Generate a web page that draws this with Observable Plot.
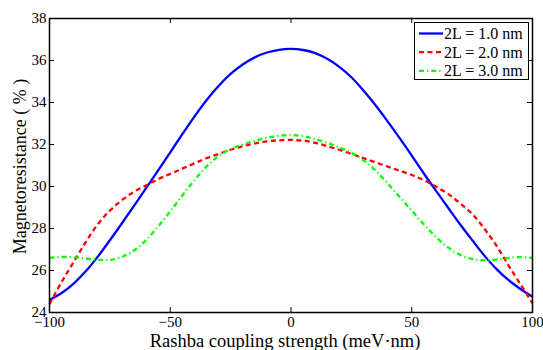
<!DOCTYPE html>
<html>
<head>
<meta charset="utf-8">
<script src="https://cdn.jsdelivr.net/npm/d3@7"></script>
<script src="https://cdn.jsdelivr.net/npm/@observablehq/plot@0.6"></script>
<style>
  body { margin: 0; background: #fff; }
  #wrap { position: relative; width: 543px; height: 350px; font-family: "Liberation Serif", "Times New Roman", serif; }
  #legend { position: absolute; left: 414px; top: 22px; }
</style>
</head>
<body>
<div id="wrap"><div id="chart"></div><div id="legend"></div></div>
<script>
// ---- data ----
const rashba = [-100,-95,-90,-85,-80,-75,-70,-65,-60,-55,-50,-45,-40,-35,-30,-25,-20,-15,-10,-5,0,
                5,10,15,20,25,30,35,40,45,50,55,60,65,70,75,80,85,90,95,100];
const mr1 = [24.6,24.93,25.38,25.96,26.66,27.44,28.25,29.08,29.92,30.77,31.63,32.49,33.33,34.11,34.79,35.36,35.81,36.15,36.38,36.51,36.55,
             36.5,36.35,36.08,35.7,35.2,34.57,33.87,33.1,32.3,31.47,30.62,29.8,29.0,28.2,27.45,26.72,26.08,25.55,25.12,24.75];
const mr2 = [24.4,25.45,26.4,27.35,28.2,28.85,29.35,29.75,30.05,30.35,30.6,30.85,31.1,31.35,31.55,31.75,31.92,32.05,32.15,32.2,32.22,
             32.18,32.08,31.92,31.75,31.55,31.35,31.15,30.95,30.75,30.55,30.3,30.0,29.65,29.2,28.7,28.0,27.2,26.25,25.35,24.45];
const mr3 = [26.6,26.65,26.63,26.57,26.51,26.5,26.65,26.95,27.45,28.1,28.82,29.57,30.3,30.95,31.45,31.78,32.0,32.17,32.32,32.42,32.45,
             32.4,32.25,32.08,31.86,31.6,31.25,30.76,30.15,29.5,28.85,28.2,27.6,27.1,26.75,26.55,26.48,26.52,26.6,26.64,26.6];
const seriesNames = ["2L = 1.0 nm", "2L = 2.0 nm", "2L = 3.0 nm"];
const seriesValues = [mr1, mr2, mr3];
const seriesColors = ["#0000ff", "#ff0000", "#00ff00"];
const seriesDash = [null, "5,3.5", "5,3,1.2,3"];
const xTicks = [-100, -50, 0, 50, 100];
const yTicks = [24, 26, 28, 30, 32, 34, 36, 38];
const xLabel = "Rashba coupling strength (meV\u00b7nm)";
const yLabel = "Magnetoresistance ( % )";

const W = 543, H = 350, mL = 49, mR = 11, mT = 18, mB = 38;
const innerW = W - mL - mR, innerH = H - mT - mB, tickLen = 5;

const lineMarks = seriesValues.map((vals, i) =>
  Plot.line(rashba.map((x, j) => ({x, y: vals[j]})), {
    x: "x", y: "y", stroke: seriesColors[i], strokeWidth: 2.3,
    strokeDasharray: seriesDash[i], curve: "catmull-rom", strokeLinecap: "butt"
  })
);

const plot = Plot.plot({
  width: W, height: H,
  marginLeft: mL, marginRight: mR, marginTop: mT, marginBottom: mB,
  style: {fontFamily: "Liberation Serif, Times New Roman, serif", fontSize: "15px", background: "#fff", color: "#000"},
  x: {domain: [-100, 100]},
  y: {domain: [24, 38]},
  marks: [
    Plot.axisX(xTicks, {tickSize: 0, tickPadding: 4, label: null, fontSize: 15}),
    Plot.axisY(yTicks, {tickSize: 0, tickPadding: 3, label: null, fontSize: 15}),
    ...lineMarks,
    Plot.tickX(xTicks, {x: d => d, insetTop: innerH - tickLen, stroke: "#000", strokeWidth: 1}),
    Plot.tickX(xTicks, {x: d => d, insetBottom: innerH - tickLen, stroke: "#000", strokeWidth: 1}),
    Plot.tickY(yTicks, {y: d => d, insetRight: innerW - tickLen, stroke: "#000", strokeWidth: 1}),
    Plot.tickY(yTicks, {y: d => d, insetLeft: innerW - tickLen, stroke: "#000", strokeWidth: 1}),
    Plot.frame({stroke: "#000", strokeWidth: 1.5}),
    Plot.text([xLabel], {frameAnchor: "bottom", dx: -6, dy: 34, lineAnchor: "bottom", textAnchor: "middle", fontSize: 18.5, fill: "#000"}),
    Plot.text([yLabel], {frameAnchor: "left", dx: -24, dy: 1, rotate: -90, lineAnchor: "bottom", textAnchor: "middle", fontSize: 18, fill: "#000"})
  ]
});
document.getElementById("chart").append(plot);

// legend inside the axes (top right)
const lw = 115, lh = 58;
const leg = d3.select("#legend").append("svg").attr("width", lw).attr("height", lh)
  .style("font-family", "Liberation Serif, Times New Roman, serif").style("font-size", "16px");
leg.append("rect").attr("x", 0.5).attr("y", 0.5).attr("width", lw - 1).attr("height", lh - 1)
  .attr("fill", "#fff").attr("stroke", "#000").attr("stroke-width", 1);
seriesNames.forEach((name, i) => {
  const cy = 11.5 + i * 18.7;
  leg.append("line").attr("x1", 5).attr("x2", 29).attr("y1", cy).attr("y2", cy)
    .attr("stroke", seriesColors[i]).attr("stroke-width", 2.3)
    .attr("stroke-dasharray", seriesDash[i]);
  leg.append("text").attr("x", 30).attr("y", cy + 5.3).attr("fill", "#000").text(name);
});
</script>
</body>
</html>
